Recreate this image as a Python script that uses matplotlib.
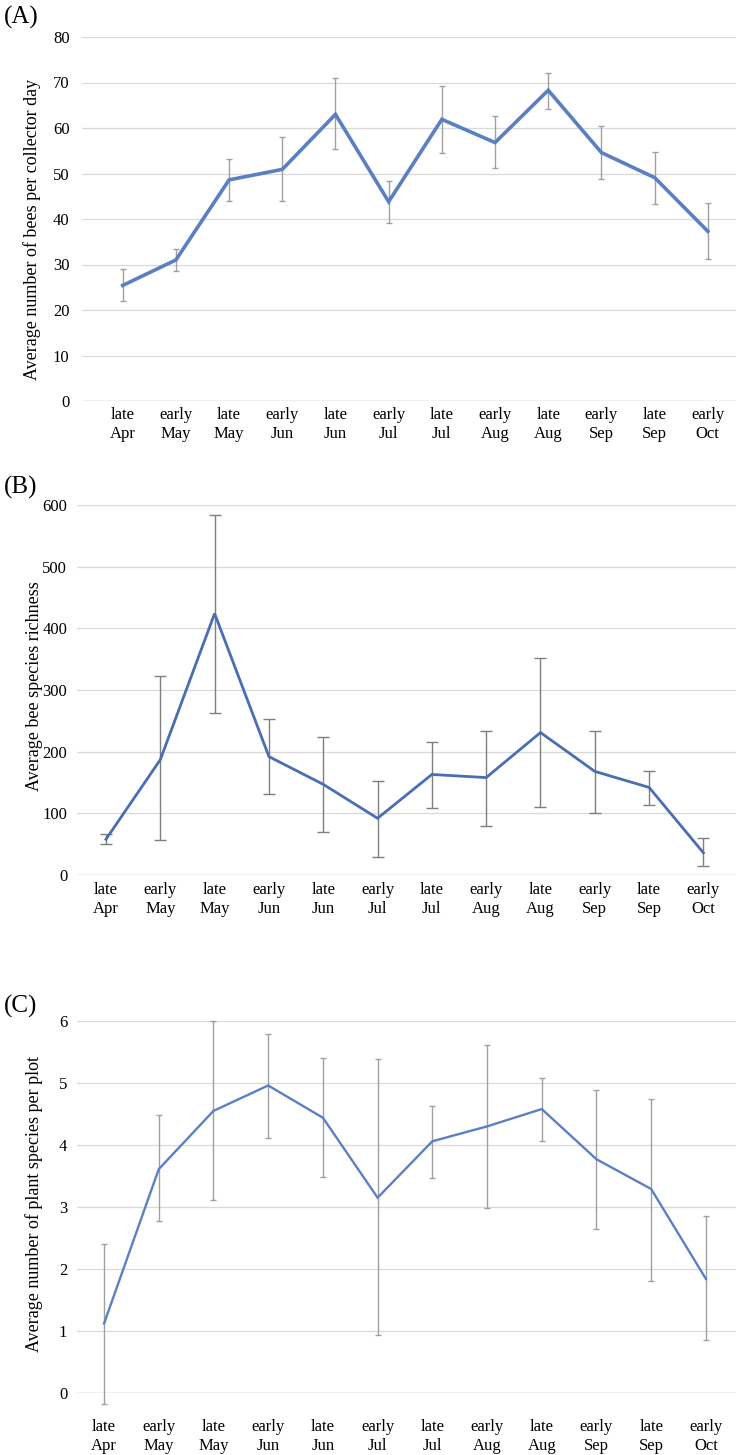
import numpy as np
import matplotlib
matplotlib.use("Agg")
import matplotlib.pyplot as plt

plt.rcParams['font.family'] = ['Liberation Serif', 'DejaVu Serif']

periods = ['late\nApr', 'early\nMay', 'late\nMay', 'early\nJun', 'late\nJun', 'early\nJul',
           'late\nJul', 'early\nAug', 'late\nAug', 'early\nSep', 'late\nSep', 'early\nOct']

# (A) bees per collector day: mean, lower and upper end of the error bar
bees_mean = [25.4, 31.0, 48.6, 50.9, 63.0, 43.8, 61.9, 56.8, 68.3, 54.6, 49.1, 37.3]
bees_low = [21.9, 28.6, 44.0, 44.0, 55.3, 39.1, 54.6, 51.2, 64.1, 48.9, 43.3, 31.2]
bees_high = [29.0, 33.5, 53.2, 58.0, 70.9, 48.4, 69.2, 62.6, 72.1, 60.4, 54.8, 43.6]

# (B) bee species richness
rich_mean = [58, 187, 424, 192, 147, 92, 163, 158, 231, 168, 142, 36]
rich_low = [50, 57, 263, 131, 70, 29, 109, 79, 111, 100, 114, 15]
rich_high = [67, 322, 584, 253, 224, 152, 216, 234, 352, 234, 169, 60]

# (C) plant species per plot
plant_mean = [1.12, 3.61, 4.55, 4.96, 4.44, 3.15, 4.06, 4.30, 4.58, 3.77, 3.29, 1.84]
plant_low = [-0.17, 2.77, 3.11, 4.11, 3.48, 0.93, 3.47, 2.98, 4.07, 2.65, 1.81, 0.85]
plant_high = [2.41, 4.48, 6.00, 5.79, 5.40, 5.39, 4.63, 5.62, 5.08, 4.89, 4.75, 2.85]

W, H = 736, 1455
fig = plt.figure(figsize=(W / 100, H / 100), dpi=100)


def panel(rect, letter, letter_y, mean, low, high, ylim, step, ylabel, xlim,
          line_color, lw, err_color, capsize, label_x, label_y, xpad, ypad):
    left, top, right, bottom = rect
    ax = fig.add_axes([left / W, 1 - bottom / H, (right - left) / W, (bottom - top) / H])
    x = np.arange(len(periods))
    mean = np.array(mean)
    yerr = [mean - np.array(low), np.array(high) - mean]
    ax.errorbar(x, mean, yerr=yerr, fmt='none', ecolor=err_color, elinewidth=1.0,
                capsize=capsize, capthick=1.0, clip_on=False, zorder=2)
    ax.plot(x, mean, color=line_color, lw=lw, solid_joinstyle='miter', zorder=3, clip_on=False)
    ax.set_xlim(*xlim)
    ax.set_ylim(*ylim)
    ax.set_yticks(np.arange(ylim[0], ylim[1] + step / 2, step))
    ax.set_xticks(x)
    ax.set_xticklabels(periods, fontsize=12, linespacing=1.25)
    ax.tick_params(axis='x', length=0, pad=xpad)
    ax.tick_params(axis='y', length=0, pad=ypad, labelsize=12)
    ax.grid(axis='y', color='#d9d9d9', lw=0.9)
    ax.set_axisbelow(True)
    for s in ax.spines.values():
        s.set_visible(False)
    # category axis line, a touch darker than the gridlines
    ax.axhline(ylim[0], color='#cfcfcf', lw=1.0, zorder=1)
    ax.set_ylabel(ylabel, fontsize=13)
    ax.yaxis.set_label_coords(label_x, label_y)
    fig.text(4 / W, 1 - letter_y / H, letter, fontsize=18, va='center', ha='left')
    return ax


panel((82, 37, 736, 401), '(A)', 17, bees_mean, bees_low, bees_high, (0, 80), 10,
      'Average number of bees per collector day', (-0.765, 11.53),
      '#5a7fc3', 2.6, '#a0a0a0', 2.5, -0.063, 0.47, 4, 9)

panel((77, 505, 736, 875), '(B)', 487, rich_mean, rich_low, rich_high, (0, 600), 100,
      'Average bee species richness', (-0.534, 11.6),
      '#4a6db3', 2.0, '#7f7f7f', 4, -0.052, 0.51, 5, 7)

panel((77, 1021, 736, 1393), '(C)', 1006, plant_mean, plant_low, plant_high, (0, 6), 1,
      'Average number of plant species per plot', (-0.494, 11.55),
      '#5b80c4', 1.7, '#a0a0a0', 2.5, -0.052, 0.507, 19, 7)

fig.savefig('out.png', dpi=100)
